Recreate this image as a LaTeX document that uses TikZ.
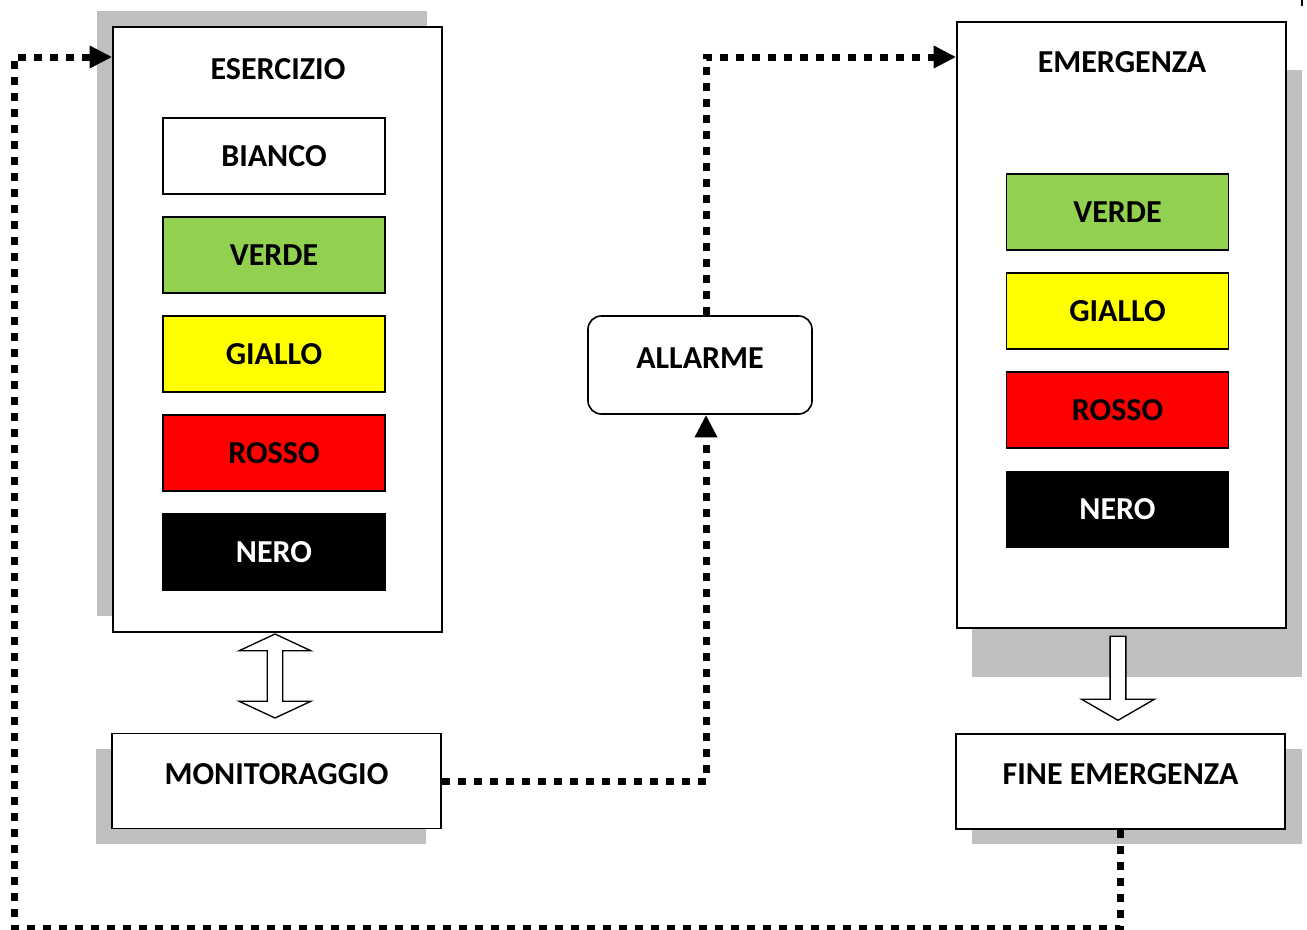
\documentclass[tikz,border=0pt]{standalone}
\usepackage{fontspec}
\setmainfont{Carlito}
\usetikzlibrary{arrows.meta,shapes.arrows,positioning}

\definecolor{shadowgray}{HTML}{BFBFBF}
\definecolor{lvgreen}{HTML}{92D050}
\definecolor{lvyellow}{HTML}{FFFF00}
\definecolor{lvred}{HTML}{FF0000}

\tikzset{
  lbl/.style={font=\bfseries\fontsize{24}{28}\selectfont},
  container/.style={draw, line width=1.2pt, fill=white, minimum width=329*0.75pt},
  level/.style={draw, line width=1pt, lbl, minimum width=222*0.75pt, minimum height=76*0.75pt,
    text height=15.5pt, text depth=0pt},
  state/.style={draw, line width=1.2pt, fill=white, lbl, minimum width=329*0.75pt,
    minimum height=95*0.75pt, text height=15.5pt, text depth=10.5pt},
  dotline/.style={line width=5.25pt, dash pattern=on 6pt off 6pt},
  tip/.style={-{Triangle[length=17pt,width=16pt]}},
  blockarrow/.style={draw, line width=1pt, fill=white, minimum height=84*0.75pt}
}

\begin{document}
\begin{tikzpicture}[x=0.75pt, y=-0.75pt]
  \useasboundingbox (0,0) rectangle (1307,929);

  % Shadows
  \fill[shadowgray] (97,11) rectangle (427,616);
  \fill[shadowgray] (972,70) rectangle (1302,677);
  \fill[shadowgray] (96,749) rectangle (426,844);
  \fill[shadowgray] (972,749) rectangle (1302,844);

  % Esercizio
  \node[container, minimum height=605*0.75pt] (eserc) at (277.5,329.5) {};
  \node[lbl] (esercT) at (278,69) {ESERCIZIO};
  \node[level] (bianco) at (274,156) {BIANCO};
  \node[level, fill=lvgreen] (verdeL) at (274,255) {VERDE};
  \node[level, fill=lvyellow] (gialloL) at (274,354) {GIALLO};
  \node[level, fill=lvred] (rossoL) at (274,453) {ROSSO};
  \node[level, fill=black, text=white] (neroL) at (274,552) {NERO};

  % Emergenza
  \node[container, minimum height=606*0.75pt] (emerg) at (1121.5,325) {};
  \node[lbl] (emergT) at (1122,62.5) {EMERGENZA};
  \node[level, fill=lvgreen] (verdeR) at (1117.5,212) {VERDE};
  \node[level, fill=lvyellow] (gialloR) at (1117.5,311) {GIALLO};
  \node[level, fill=lvred] (rossoR) at (1117.5,410) {ROSSO};
  \node[level, fill=black, text=white] (neroR) at (1117.5,509.5) {NERO};

  % Other states
  \node[state] (monit) at (276.5,781) {MONITORAGGIO};
  \node[state] (fin) at (1120.5,781.5) {FINE EMERGENZA};
  \node[state, minimum width=224*0.75pt, minimum height=98*0.75pt, rounded corners=10pt] (allarme) at (700,365) {ALLARME};

  % Block arrows
  \node[blockarrow, double arrow, rotate=90, minimum width=72*0.75pt,
    double arrow head extend=18.5*0.75pt, double arrow tip angle=130] (dbl) at (275,676) {};
  \node[blockarrow, single arrow, rotate=-90, minimum width=73*0.75pt,
    single arrow head extend=18.5*0.75pt, single arrow tip angle=120] (down) at (1118,676) {};

  % Dotted connections
  \coordinate (loopBL) at (14,928);
  \coordinate (loopTL) at (14,57);
  \draw[dotline, tip] (fin.south) |- (loopBL) -- (loopTL) -- (loopTL -| eserc.west);
  \draw[dotline, tip] (monit.east) -| ([xshift=4.5pt]allarme.south);
  \draw[dotline, tip] ([xshift=4.5pt]allarme.north) |- (loopTL -| emerg.west);

  % edge mark
  \coordinate (mark) at (1302,0);
  \draw[line width=1.5pt] (mark) -- ++(0,6);
\end{tikzpicture}
\end{document}
